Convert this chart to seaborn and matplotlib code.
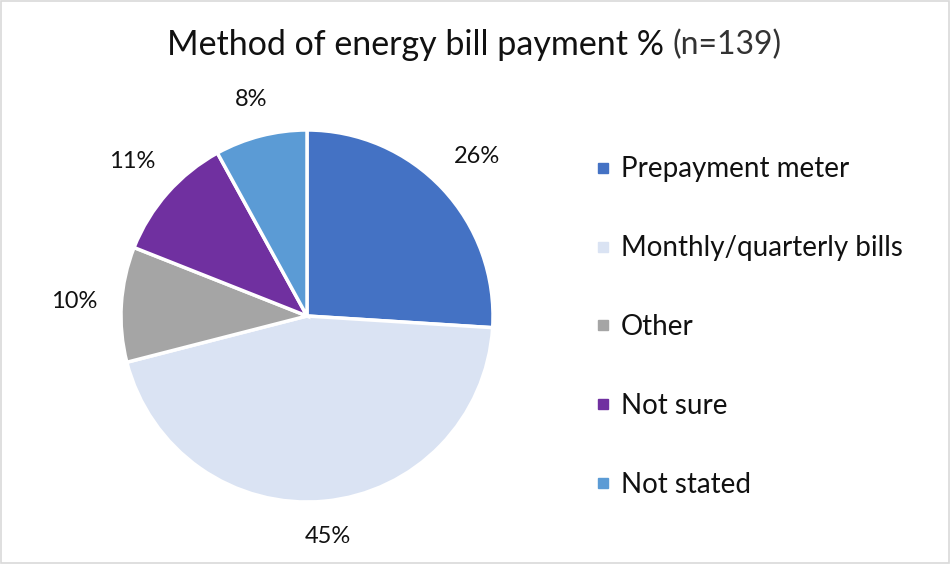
import matplotlib
matplotlib.use("Agg")
import matplotlib.pyplot as plt
from matplotlib.lines import Line2D
from matplotlib.patches import Rectangle
import numpy as np
import seaborn as sns

# Survey data: how respondents pay their energy bills (n=139)
categories = ["Prepayment meter", "Monthly/quarterly bills", "Other", "Not sure", "Not stated"]
shares = [26, 45, 10, 11, 8]
colors = ["#4472C4", "#DAE3F3", "#A5A5A5", "#7030A0", "#5B9BD5"]

sns.set_theme(style="white")
plt.rcParams["font.family"] = ["Lato", "DejaVu Sans"]

W, H = 950, 564
fig = plt.figure(figsize=(W / 100, H / 100), dpi=100)
fig.patch.set_facecolor("white")

# thin light frame round the whole chart
fig.add_artist(Rectangle((0.001, 0.001), 0.998, 0.997, transform=fig.transFigure,
                         fill=False, edgecolor="#D9D9D9", linewidth=1.2))

# pie axes: centre (307, 316) px, radius 186 px
cx, cy, r = 307, 316, 186
ax = fig.add_axes([(cx - r) / W, (H - cy - r) / H, 2 * r / W, 2 * r / H])
wedges, texts, autotexts = ax.pie(
    shares, colors=colors, startangle=90, counterclock=False,
    autopct=lambda p: f"{p:.0f}%", pctdistance=1.2,
    wedgeprops=dict(edgecolor="white", linewidth=2.5),
    textprops=dict(fontsize=17, color="#111111"),
    radius=1.0,
)
ax.set_aspect("equal")
ax.set_xlim(-1, 1)
ax.set_ylim(-1, 1)
ax.axis("off")

# "outside end" labels: keep a fixed gap between the rim and the label box
fig.canvas.draw()
renderer = fig.canvas.get_renderer()
gap = 23 / r
for w, t in zip(wedges, autotexts):
    theta = np.deg2rad((w.theta1 + w.theta2) / 2)
    bb = t.get_window_extent(renderer)
    hw, hh = bb.width / 2 / r, bb.height / 2 / r
    d = 1 + gap + hw * abs(np.cos(theta)) + hh * abs(np.sin(theta))
    t.set_position((d * np.cos(theta), d * np.sin(theta)))

# title: main part plus the sample-size note
fig.text(664 / W, 1 - 45 / H, "Method of energy bill payment %", ha="right", va="center",
         fontsize=24.5, color="#111111")
fig.text(673 / W, 1 - 45 / H, "(n=139)", ha="left", va="center",
         fontsize=23, color="#333333")

handles = [Line2D([0], [0], marker="s", linestyle="none", markersize=7,
                  markerfacecolor=c, markeredgecolor=c) for c in colors]
fig.legend(handles, categories, loc="center left",
           bbox_to_anchor=(567 / W, 1 - 327 / H), frameon=False,
           fontsize=20, labelspacing=1.9, handletextpad=0.25,
           handlelength=0.8, labelcolor="#111111")

fig.savefig("out.png", dpi=100, facecolor="white")
